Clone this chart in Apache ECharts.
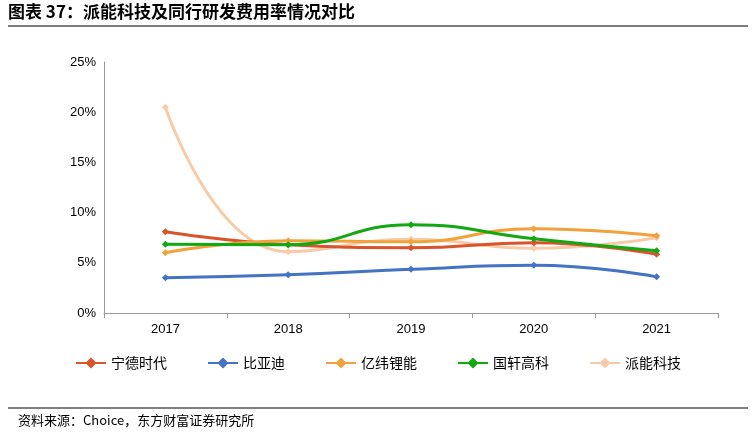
<!DOCTYPE html>
<html>
<head>
<meta charset="utf-8">
<script src="https://cdn.jsdelivr.net/npm/echarts@6/dist/echarts.min.js"></script>
<style>html,body{margin:0;padding:0;background:#fff}#chart{width:756px;height:438px}</style>
</head>
<body>
<div id="chart"></div>
<script>
var years = ['2017', '2018', '2019', '2020', '2021'];
var names = ['宁德时代', '比亚迪', '亿纬锂能', '国轩高科', '派能科技'];
var catl = [8.1, 6.8, 6.5, 7.0, 5.85];
var byd = [3.5, 3.8, 4.35, 4.75, 3.6];
var eve = [6.0, 7.2, 7.1, 8.4, 7.7];
var gotion = [6.85, 6.8, 8.8, 7.4, 6.2];
var pylon = [20.5, 6.1, 7.35, 6.45, 7.5];
var colors = ['#D9532B', '#4472C4', '#F0A23C', '#12A812', '#F8CBA8'];

var chart = echarts.init(document.getElementById('chart'));
var font = '"Noto Sans CJK SC", sans-serif';

function mk(i, data) {
	return {
		name: names[i],
		type: 'line',
		smooth: 0.5,
		data: data,
		symbol: 'diamond',
		symbolSize: 7,
		lineStyle: { width: 3, color: colors[i] },
		itemStyle: { color: colors[i] },
		z: i == 4 ? 1 : 2
	};
}

chart.setOption({
	animation: false,
	textStyle: { fontFamily: font },
	graphic: [
		{ type: 'text', left: 8, top: 3, style: { text: '图表 37：派能科技及同行研发费用率情况对比', font: 'bold 17px ' + font, fill: '#000' } },
		{ type: 'line', shape: { x1: 8, y1: 26, x2: 748, y2: 26 }, style: { stroke: '#000', lineWidth: 1.2 } },
		{ type: 'line', shape: { x1: 8, y1: 408, x2: 748, y2: 408 }, style: { stroke: '#000', lineWidth: 1.2 } },
		{ type: 'text', left: 18, top: 414, style: { text: '资料来源：Choice，东方财富证券研究所', font: '13px ' + font, fill: '#000' } }
	],
	grid: { left: 104, right: 38, top: 62, bottom: 125 },
	legend: {
		top: 351,
		left: 'center',
		itemGap: 40,
		itemWidth: 30,
		textStyle: { fontSize: 14, color: '#000' },
		data: names
	},
	xAxis: {
		type: 'category',
		data: years,
		axisLine: { lineStyle: { color: '#999' } },
		axisTick: { show: true, length: 5, lineStyle: { color: '#999' } },
		axisLabel: { color: '#000', fontSize: 13, fontFamily: 'Liberation Sans', margin: 10 }
	},
	yAxis: {
		type: 'value',
		min: 0, max: 25, interval: 5,
		splitLine: { show: false },
		axisLine: { show: true, lineStyle: { color: '#999' } },
		axisTick: { show: false },
		axisLabel: { color: '#000', fontSize: 13, fontFamily: 'Liberation Sans', formatter: '{value}%' }
	},
	series: [mk(0, catl), mk(1, byd), mk(2, eve), mk(3, gotion), mk(4, pylon)]
});
</script>
</body>
</html>
